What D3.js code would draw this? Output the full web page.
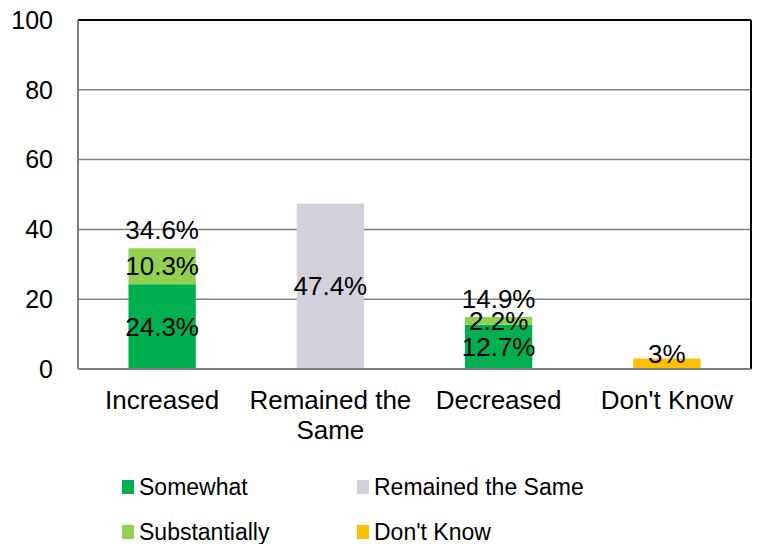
<!DOCTYPE html>
<html>
<head>
<meta charset="utf-8">
<script src="https://cdn.jsdelivr.net/npm/d3@7"></script>
<style>
  body { margin: 0; background: #fff; }
  svg { display: block; font-family: "Liberation Sans", Arial, sans-serif; }
</style>
</head>
<body>
<svg id="chart" width="757" height="544"></svg>
<script>
var categories = ["Increased", "Remained the Same", "Decreased", "Don't Know"];
var somewhat = [24.3, 0, 12.7, 0];
var substantially = [10.3, 0, 2.2, 0];
var remained = [0, 47.4, 0, 0];
var dontKnow = [0, 0, 0, 3];
var yTicks = [0, 20, 40, 60, 80, 100];

var seriesNames = ["Somewhat", "Substantially", "Remained the Same", "Don't Know"];
var seriesValues = [somewhat, substantially, remained, dontKnow];
var colors = ["#00B050", "#92D050", "#D3D1DC", "#FFC000"];

var svg = d3.select("#chart"),
    margin = {top: 20, right: 6, bottom: 175, left: 78},
    width = 757 - margin.left - margin.right,
    height = 544 - margin.top - margin.bottom;

var x = d3.scaleBand().domain(categories).range([0, width]).padding(0);
var y = d3.scaleLinear().domain([0, 100]).range([height, 0]);
var barW = x.bandwidth() * 0.4;

var rows = categories.map(function(c, i) {
    var r = {cat: c};
    seriesNames.forEach(function(s, j) { r[s] = seriesValues[j][i]; });
    return r;
});
var stack = d3.stack().keys(seriesNames)(rows);

var g = svg.append("g")
    .attr("transform", "translate(" + margin.left + "," + margin.top + ")");

// gridlines
g.append("g")
    .selectAll("line")
    .data(yTicks.filter(function(t) { return t > 0 && t < 100; }))
    .enter().append("line")
    .attr("x1", 0).attr("x2", width)
    .attr("y1", function(d) { return y(d); })
    .attr("y2", function(d) { return y(d); })
    .attr("stroke", "#808080")
    .attr("stroke-width", 1.5);

// bars
var layer = g.selectAll(".layer")
    .data(stack)
    .enter().append("g")
    .attr("class", "layer")
    .attr("fill", function(d, i) { return colors[i]; });

layer.selectAll("rect")
    .data(function(d) { return d; })
    .enter().append("rect")
    .filter(function(d) { return d[1] - d[0] > 0; })
    .attr("x", function(d) { return x(d.data.cat) + (x.bandwidth() - barW) / 2; })
    .attr("width", barW)
    .attr("y", function(d) { return y(d[1]); })
    .attr("height", function(d) { return y(d[0]) - y(d[1]); });

// frame
g.append("line").attr("x1", 0).attr("x2", width).attr("y1", 0).attr("y2", 0)
    .attr("stroke", "#000").attr("stroke-width", 2);
g.append("line").attr("x1", width).attr("x2", width).attr("y1", 0).attr("y2", height)
    .attr("stroke", "#000").attr("stroke-width", 2);
g.append("line").attr("x1", 0).attr("x2", 0).attr("y1", 0).attr("y2", height)
    .attr("stroke", "#808080").attr("stroke-width", 2);
g.append("line").attr("x1", 0).attr("x2", width).attr("y1", height).attr("y2", height)
    .attr("stroke", "#808080").attr("stroke-width", 2);

// y axis labels
g.append("g")
    .selectAll("text")
    .data(yTicks)
    .enter().append("text")
    .attr("x", -25)
    .attr("y", function(d) { return y(d); })
    .attr("dy", "0.35em")
    .attr("text-anchor", "end")
    .style("font-size", "25px")
    .text(function(d) { return d; });

// x axis labels
var xl = g.append("g").selectAll("text")
    .data(categories)
    .enter().append("text")
    .attr("x", function(d) { return x(d) + x.bandwidth() / 2; })
    .attr("y", height + 31)
    .attr("text-anchor", "middle")
    .style("font-size", "26px");
xl.each(function(d) {
    var lines = d === "Remained the Same" ? ["Remained the", "Same"] : [d];
    var t = d3.select(this);
    lines.forEach(function(l, k) {
        t.append("tspan")
            .attr("x", x(d) + x.bandwidth() / 2)
            .attr("dy", k === 0 ? "0.35em" : "30px")
            .text(l);
    });
});

// segment labels
var fmt = function(v) { return d3.format("~f")(v) + "%"; };
layer.selectAll("text")
    .data(function(d) { return d; })
    .enter().append("text")
    .filter(function(d) { return d[1] - d[0] > 0; })
    .attr("x", function(d) { return x(d.data.cat) + x.bandwidth() / 2; })
    .attr("y", function(d) {
        var h = y(d[0]) - y(d[1]);
        return (h > 20 || d[0] > 0) ? (y(d[0]) + y(d[1])) / 2 : y(d[1]) - 5;
    })
    .attr("dy", "0.35em")
    .attr("text-anchor", "middle")
    .attr("fill", "#000")
    .style("font-size", "26px")
    .text(function(d) { return fmt(+(d[1] - d[0]).toFixed(1)); });

// totals for stacked bars
var totals = categories.map(function(c, i) { return {cat: c, n: (somewhat[i] > 0) + (substantially[i] > 0), v: somewhat[i] + substantially[i]}; })
    .filter(function(d) { return d.n > 1; });
g.append("g").selectAll("text")
    .data(totals)
    .enter().append("text")
    .attr("x", function(d) { return x(d.cat) + x.bandwidth() / 2; })
    .attr("y", function(d) { return y(d.v) - 18; })
    .attr("dy", "0.35em")
    .attr("text-anchor", "middle")
    .style("font-size", "26px")
    .text(function(d) { return fmt(+d.v.toFixed(1)); });

// legend
var legend = svg.append("g").attr("transform", "translate(122,487)");
var li = legend.selectAll("g")
    .data(seriesNames)
    .enter().append("g")
    .attr("transform", function(d, i) {
        return "translate(" + (i < 2 ? 0 : 235) + "," + (i % 2) * 45 + ")";
    });
li.append("rect")
    .attr("x", 0).attr("y", -7)
    .attr("width", 12).attr("height", 14)
    .attr("fill", function(d, i) { return colors[i]; });
li.append("text")
    .attr("x", 17).attr("y", 0)
    .attr("dy", "0.35em")
    .style("font-size", "23px")
    .text(function(d) { return d; });
</script>
</body>
</html>
